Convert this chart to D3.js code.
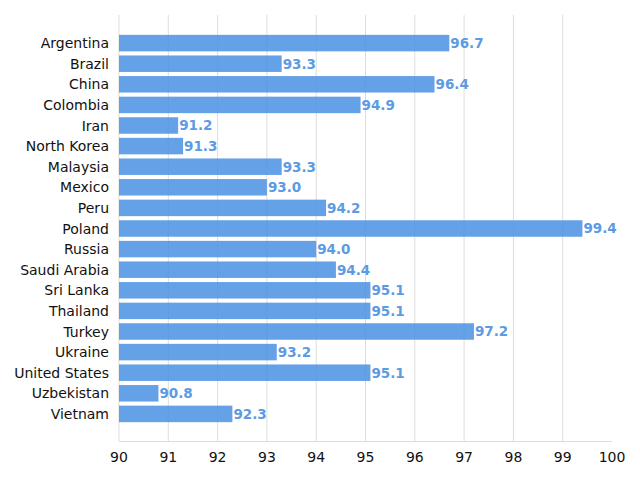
<!DOCTYPE html>
<html><head><meta charset="utf-8">
<script src="https://cdn.jsdelivr.net/npm/d3@7"></script>
<style>body{margin:0;background:#fff;} text{font-family:"DejaVu Sans",sans-serif;}</style>
</head><body><svg id="c" width="640" height="480"></svg>
<script>
const countries = ["Argentina","Brazil","China","Colombia","Iran","North Korea","Malaysia","Mexico","Peru","Poland","Russia","Saudi Arabia","Sri Lanka","Thailand","Turkey","Ukraine","United States","Uzbekistan","Vietnam"];
const values = [96.7,93.3,96.4,94.9,91.2,91.3,93.3,93.0,94.2,99.4,94.0,94.4,95.1,95.1,97.2,93.2,95.1,90.8,92.3];
const xTicks = [90,91,92,93,94,95,96,97,98,99,100];

const svg = d3.select("#c");
const L=119, R=612, T=15, B=441;
const x = d3.scaleLinear().domain([90,100]).range([L,R]);
const n = countries.length;
const y = d3.scaleLinear().domain([-1.34, n-1+1.34]).range([T,B]);
const barH = 0.8*(y(1)-y(0));

svg.append("g").selectAll("line").data(xTicks.filter(t=>t<100)).join("line")
  .attr("x1",d=>x(d)).attr("x2",d=>x(d)).attr("y1",T).attr("y2",B)
  .attr("stroke","#dddddd").attr("stroke-width",1);
svg.append("line").attr("x1",L).attr("x2",R).attr("y1",B+0.5).attr("y2",B+0.5).attr("stroke","#dddddd");

svg.append("g").selectAll("rect").data(values).join("rect")
  .attr("x",x(90)).attr("y",(d,i)=>y(i)-barH/2+0.5)
  .attr("width",d=>x(d)-x(90)).attr("height",barH)
  .attr("fill","#4a90e2").attr("fill-opacity",0.85);

svg.append("g").selectAll("text").data(values).join("text")
  .attr("x",d=>x(d)+1).attr("y",(d,i)=>y(i)+0.5).attr("dy","0.36em")
  .attr("font-size",13.5).attr("font-weight","bold").attr("fill","#5c9be4")
  .text(d=>d.toFixed(1));

svg.append("g").selectAll("text").data(countries).join("text")
  .attr("x",L-10).attr("y",(d,i)=>y(i)+0.5).attr("dy","0.36em")
  .attr("text-anchor","end").attr("font-size",14).attr("fill","#111")
  .text(d=>d);

svg.append("g").selectAll("text").data(xTicks).join("text")
  .attr("x",d=>x(d)).attr("y",B+21).attr("text-anchor","middle")
  .attr("font-size",14).attr("fill","#111").text(d=>d);
</script></body></html>
